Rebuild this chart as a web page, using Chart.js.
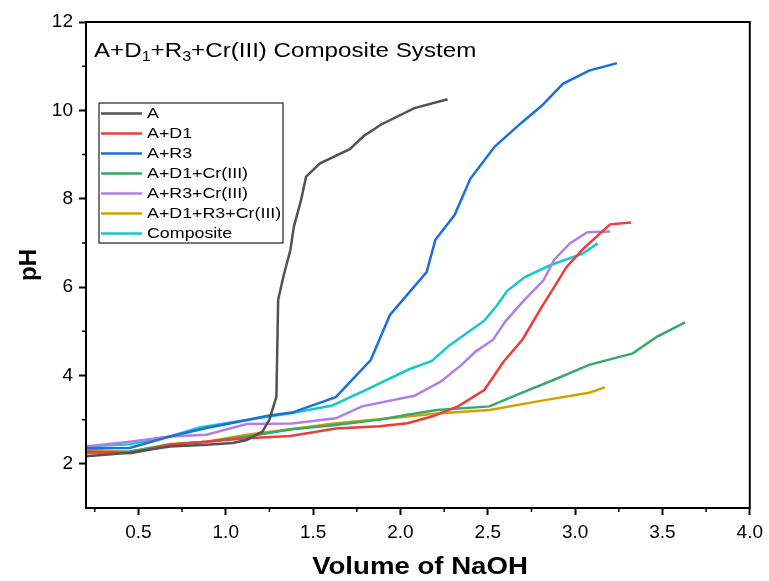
<!DOCTYPE html>
<html>
<head>
<meta charset="utf-8">
<script src="https://cdn.jsdelivr.net/npm/chart.js@4.4.1/dist/chart.umd.min.js"></script>
<style>
  html, body { margin: 0; padding: 0; background: #fff; }
  #wrap { width: 769px; height: 581px; }
</style>
</head>
<body>
<div id="wrap"><canvas id="titration" width="769" height="581"></canvas></div>
<script>
'use strict';

// x tick labels and y tick labels
const xTickValues = [0.5, 1.0, 1.5, 2.0, 2.5, 3.0, 3.5, 4.0]
const yTickValues = [2, 4, 6, 8, 10, 12]

// A
const aVol = [0.2, 0.45, 0.68, 0.89, 1.04, 1.12, 1.21, 1.25, 1.29, 1.30, 1.33, 1.37, 1.39, 1.43, 1.46, 1.54, 1.71, 1.79, 1.89, 2.08, 2.27]
const aPH = [2.17, 2.25, 2.39, 2.43, 2.47, 2.54, 2.73, 3.0, 3.52, 5.71, 6.24, 6.84, 7.37, 7.95, 8.5, 8.8, 9.12, 9.42, 9.68, 10.05, 10.25]

// A+D1
const ad1Vol = [0.2, 0.46, 0.68, 0.89, 1.12, 1.37, 1.63, 1.88, 2.04, 2.18, 2.33, 2.48, 2.59, 2.7, 2.81, 2.88, 2.95, 3.05, 3.2, 3.32]
const ad1PH = [2.28, 2.24, 2.43, 2.5, 2.58, 2.63, 2.8, 2.85, 2.92, 3.07, 3.3, 3.67, 4.31, 4.82, 5.56, 6.0, 6.45, 6.88, 7.42, 7.46]

// A+R3
const ar3Vol = [0.2, 0.45, 0.68, 0.89, 1.08, 1.24, 1.38, 1.5, 1.63, 1.83, 1.94, 2.15, 2.2, 2.31, 2.4, 2.54, 2.69, 2.81, 2.93, 3.08, 3.24]
const ar3PH = [2.35, 2.36, 2.62, 2.81, 2.96, 3.09, 3.16, 3.33, 3.51, 4.35, 5.37, 6.34, 7.07, 7.63, 8.45, 9.18, 9.71, 10.11, 10.6, 10.9, 11.07]

// A+D1+Cr(III)
const ad1CrVol = [0.2, 0.45, 0.68, 0.89, 1.12, 1.38, 1.63, 1.88, 2.04, 2.21, 2.51, 2.69, 2.89, 3.08, 3.33, 3.47, 3.63]
const ad1CrPH = [2.24, 2.28, 2.43, 2.5, 2.62, 2.78, 2.88, 3.0, 3.11, 3.22, 3.3, 3.6, 3.92, 4.24, 4.5, 4.88, 5.2]

// A+R3+Cr(III)
const ar3CrVol = [0.2, 0.45, 0.68, 0.89, 1.12, 1.38, 1.63, 1.78, 2.08, 2.23, 2.35, 2.43, 2.53, 2.6, 2.71, 2.82, 2.88, 2.97, 3.07, 3.2]
const ar3CrPH = [2.39, 2.5, 2.62, 2.66, 2.9, 2.91, 3.03, 3.3, 3.54, 3.86, 4.24, 4.54, 4.81, 5.22, 5.71, 6.16, 6.62, 6.99, 7.24, 7.26]

// A+D1+R3+Cr(III)
const allVol = [0.2, 0.45, 0.68, 0.89, 1.12, 1.38, 1.63, 1.88, 2.21, 2.51, 2.81, 3.08, 3.17]
const allPH = [2.32, 2.27, 2.45, 2.5, 2.66, 2.79, 2.92, 3.01, 3.14, 3.22, 3.43, 3.61, 3.73]

// Composite
const compVol = [0.2, 0.45, 0.68, 0.85, 1.08, 1.38, 1.61, 1.8, 2.05, 2.18, 2.28, 2.48, 2.55, 2.61, 2.71, 2.86, 3.04, 3.13]
const compPH = [2.39, 2.44, 2.62, 2.82, 2.97, 3.15, 3.32, 3.67, 4.14, 4.33, 4.68, 5.24, 5.57, 5.91, 6.22, 6.5, 6.75, 6.99]

const seriesNames = ['A', 'A+D1', 'A+R3', 'A+D1+Cr(III)', 'A+R3+Cr(III)', 'A+D1+R3+Cr(III)', 'Composite']
const seriesColors = ['#525252', '#f03b3b', '#1b6fe0', '#36a96a', '#b07fe6', '#d2a000', '#16c8c8']

const toPoints = (xs, ys) => xs.map((x, i) => ({ x: x, y: ys[i] }))

const seriesData = [
    toPoints(aVol, aPH),
    toPoints(ad1Vol, ad1PH),
    toPoints(ar3Vol, ar3PH),
    toPoints(ad1CrVol, ad1CrPH),
    toPoints(ar3CrVol, ar3CrPH),
    toPoints(allVol, allPH),
    toPoints(compVol, compPH)
]

const fontFamily = '"Liberation Sans", Arial, sans-serif'

// draw text a bit wider, the original looks horizontally stretched
function wideText(ctx, text, x, y, font, stretch, align) {
    ctx.save()
    ctx.font = font
    ctx.textBaseline = 'middle'
    ctx.textAlign = align || 'left'
    ctx.translate(x, y)
    ctx.scale(stretch, 1)
    ctx.fillText(text, 0, 0)
    ctx.restore()
}

const framePlugin = {
    id: 'frame',
    afterDraw(chart) {
        const ctx = chart.ctx
        const area = chart.chartArea
        const xScale = chart.scales.x
        const yScale = chart.scales.y

        ctx.save()
        ctx.fillStyle = '#000'
        ctx.strokeStyle = '#000'

        // box around the plot
        ctx.lineWidth = 2
        ctx.strokeRect(area.left, area.top, area.right - area.left, area.bottom - area.top)

        // minor ticks
        ctx.lineWidth = 1.5
        ctx.beginPath()
        for (let v = 0.25; v < 4; v += 0.5) {
            const px = xScale.getPixelForValue(v)
            ctx.moveTo(px, area.bottom)
            ctx.lineTo(px, area.bottom + 4)
        }
        for (let v = 3; v < 12; v += 2) {
            const py = yScale.getPixelForValue(v)
            ctx.moveTo(area.left, py)
            ctx.lineTo(area.left - 4, py)
        }
        ctx.stroke()

        // title with subscripts
        const stretch = 1.15
        const big = '21px ' + fontFamily
        const small = '14px ' + fontFamily
        const parts = [['A+D', false], ['1', true], ['+R', false], ['3', true], ['+Cr(III) Composite System', false]]
        let tx = 94
        const ty = 51
        parts.forEach(([txt, sub]) => {
            ctx.font = sub ? small : big
            const w = ctx.measureText(txt).width * stretch
            wideText(ctx, txt, tx, sub ? ty + 6 : ty, sub ? small : big, stretch)
            tx += w
        })

        // legend
        const lx = 99, ly = 103, lw = 184, lh = 140
        ctx.lineWidth = 1.2
        ctx.strokeStyle = '#222'
        ctx.strokeRect(lx, ly, lw, lh)
        seriesNames.forEach((name, i) => {
            const rowY = ly + 10.5 + i * 20
            ctx.strokeStyle = seriesColors[i]
            ctx.lineWidth = 2.5
            ctx.beginPath()
            ctx.moveTo(lx + 2, rowY)
            ctx.lineTo(lx + 43, rowY)
            ctx.stroke()
            ctx.fillStyle = '#000'
            wideText(ctx, name, lx + 48, rowY, '15.5px ' + fontFamily, 1.15)
        })

        // axis titles
        ctx.fillStyle = '#000'
        wideText(ctx, 'Volume of NaOH', 420, 567, 'bold 24px ' + fontFamily, 1.15, 'center')
        ctx.save()
        ctx.translate(29, 265)
        ctx.rotate(-Math.PI / 2)
        wideText(ctx, 'pH', 0, 0, 'bold 24px ' + fontFamily, 1.0, 'center')
        ctx.restore()

        ctx.restore()
    }
}

const tickFont = { family: fontFamily, size: 19 }

new Chart(document.getElementById('titration'), {
    type: 'line',
    data: {
        datasets: seriesData.map((pts, i) => ({
            label: seriesNames[i],
            data: pts,
            borderColor: seriesColors[i],
            backgroundColor: seriesColors[i],
            borderWidth: 2.5,
            pointRadius: 0,
            tension: 0,
            fill: false
        }))
    },
    options: {
        responsive: false,
        animation: false,
        devicePixelRatio: 1,
        layout: { padding: { top: 22, right: 17, left: 0, bottom: 0 } },
        plugins: {
            legend: { display: false },
            tooltip: { enabled: false }
        },
        scales: {
            x: {
                type: 'linear',
                min: 0.2,
                max: 4.0,
                afterBuildTicks: scale => { scale.ticks = xTickValues.map(v => ({ value: v })) },
                afterFit: scale => { scale.height = 73 },
                ticks: {
                    font: tickFont,
                    color: '#000',
                    padding: 6,
                    maxRotation: 0,
                    callback: value => Number(value).toFixed(1)
                },
                grid: { drawOnChartArea: false, tickLength: 7, tickColor: '#000', tickWidth: 2 },
                border: { display: true, color: '#000', width: 2 }
            },
            y: {
                type: 'linear',
                min: 1,
                max: 12,
                afterBuildTicks: scale => { scale.ticks = yTickValues.map(v => ({ value: v })) },
                afterFit: scale => { scale.width = 86 },
                ticks: {
                    font: tickFont,
                    color: '#000',
                    padding: 6
                },
                grid: { drawOnChartArea: false, tickLength: 7, tickColor: '#000', tickWidth: 2 },
                border: { display: true, color: '#000', width: 2 }
            }
        }
    },
    plugins: [framePlugin]
});
</script>
</body>
</html>
